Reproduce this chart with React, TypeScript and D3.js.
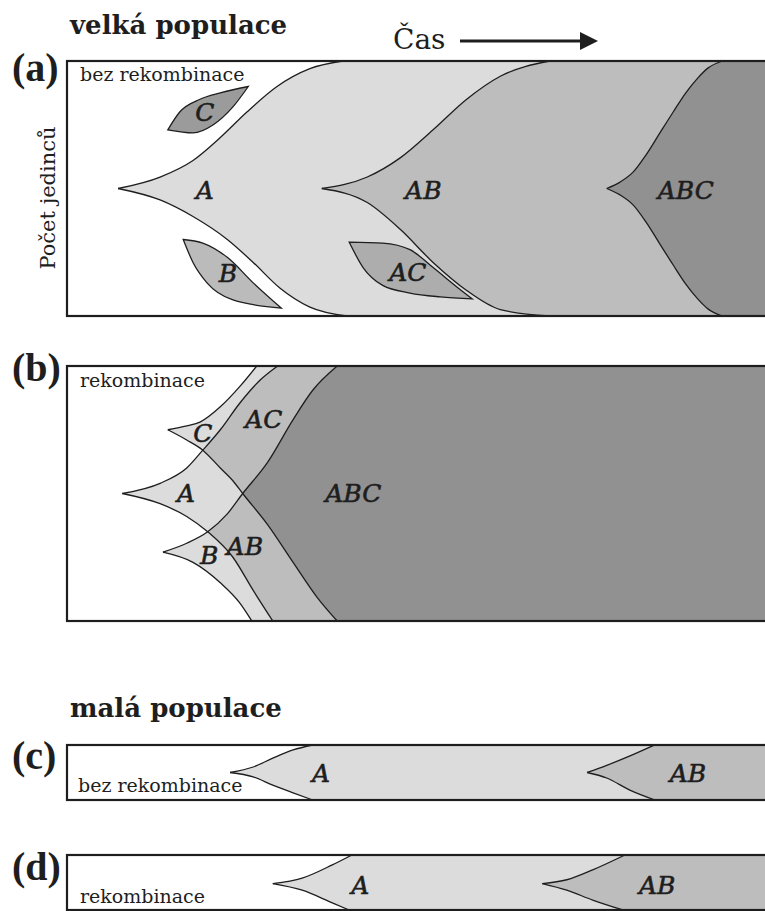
import React from 'react';
import * as d3 from 'd3';

type P = [number, number];

// ---- data: time (0-100) vs. relative population share (0-1) ----
// panel (a) – large population, no recombination
const aA_up: P[] = [[7.3,0.5],[13.3,0.545],[18,0.61],[21.9,0.70],[25.7,0.80],[30,0.90],[34.7,0.97],[39.4,1]];
const aA_lo: P[] = [[7.3,0.5],[13.3,0.455],[18,0.39],[22.9,0.30],[26.6,0.21],[30.4,0.11],[34.7,0.035],[40,0]];
const aAB_up: P[] = [[36.4,0.5],[42.9,0.545],[47.6,0.62],[52.3,0.73],[57.1,0.85],[61.9,0.94],[69,1]];
const aAB_lo: P[] = [[36.4,0.5],[42.9,0.445],[47.6,0.34],[52.3,0.21],[57.1,0.10],[61.9,0.025],[69,0]];
const aABC_up: P[] = [[77.1,0.5],[79,0.525],[80.9,0.565],[82.7,0.631],[84.7,0.718],[86.6,0.80],[88.4,0.875],[90.1,0.933],[91.6,0.973],[93.6,1]];
const aABC_lo: P[] = [[77.1,0.5],[79,0.475],[80.9,0.435],[82.7,0.369],[84.7,0.282],[86.6,0.20],[88.4,0.125],[90.1,0.067],[91.6,0.027],[93.6,0]];
const aC_top: P[] = [[14.4,0.73],[16.1,0.80],[19,0.85],[21.9,0.875],[25.9,0.90]];
const aC_bot: P[] = [[14.4,0.73],[18,0.718],[20.9,0.75],[23.7,0.82],[25.9,0.90]];
const aB_top: P[] = [[16.6,0.30],[19.4,0.286],[22.9,0.23],[26.6,0.13],[30.6,0.031]];
const aB_bot: P[] = [[16.6,0.30],[18,0.21],[20,0.13],[23.7,0.063],[30.6,0.031]];
const aAC_top: P[] = [[40.3,0.29],[45.1,0.286],[49,0.26],[52.3,0.19],[55.7,0.114],[57.9,0.067]];
const aAC_bot: P[] = [[40.3,0.29],[42.3,0.19],[45.1,0.12],[49,0.09],[53.3,0.075],[57.9,0.067]];

// panel (b) – large population, recombination
const bC_up: P[] = [[14.4,0.75],[17.1,0.765],[19,0.78],[21.9,0.84],[24.7,0.92],[27.1,1]];
const bC_lo: P[] = [[14.4,0.75],[17.1,0.71],[19.4,0.67],[21.9,0.60],[23.7,0.55],[25.1,0.50],[28.6,0.38],[32.3,0.23],[35.7,0.094],[38.6,0]];
const bA_up: P[] = [[7.9,0.5],[13.3,0.54],[17.1,0.60],[19.4,0.67],[21.9,0.75],[24.7,0.855],[27.6,0.945],[30.1,1]];
const bA_lo: P[] = [[7.9,0.5],[13.3,0.46],[17.1,0.41],[20.1,0.35],[23.7,0.25],[26.6,0.12],[29.4,0]];
const bB_up: P[] = [[13.7,0.27],[17.1,0.305],[20.1,0.35],[22.9,0.42],[25.1,0.50],[28.6,0.62],[32.3,0.79],[35.1,0.905],[38.6,1]];
const bB_lo: P[] = [[13.7,0.27],[18,0.23],[21.9,0.15],[24.7,0.07],[26.4,0]];

// panel (c) – small population, no recombination
const cA_up: P[] = [[23.3,0.5],[26.6,0.6],[29.4,0.76],[32.3,0.91],[35.1,1]];
const cA_lo: P[] = [[23.3,0.5],[26.6,0.42],[29.4,0.27],[32.3,0.13],[35.1,0]];
const cAB_up: P[] = [[74.3,0.5],[77.1,0.63],[80,0.78],[83.9,1]];
const cAB_lo: P[] = [[74.3,0.5],[77.1,0.40],[80.4,0.18],[84,0]];

// panel (d) – small population, recombination
const dA_up: P[] = [[29.4,0.48],[33.6,0.58],[37.9,0.82],[40.7,1]];
const dA_lo: P[] = [[29.4,0.48],[33.6,0.36],[37.9,0.13],[40.3,0]];
const dAB_up: P[] = [[67.9,0.48],[71.4,0.55],[75.1,0.73],[79.7,1]];
const dAB_lo: P[] = [[67.9,0.48],[71.4,0.36],[75.1,0.18],[79.4,0]];

// labels: [time, share, text]
const aLabels: [number, number, string][] = [[19.7,0.494,'A'],[50.9,0.494,'AB'],[88.4,0.494,'ABC'],[19.7,0.80,'C'],[23.0,0.169,'B'],[48.7,0.173,'AC']];
const bLabels: [number, number, string][] = [[19.4,0.737,'C'],[17.0,0.502,'A'],[20.3,0.259,'B'],[28.1,0.792,'AC'],[25.4,0.294,'AB'],[40.9,0.502,'ABC']];
const cLabels: [number, number, string][] = [[36.3,0.49,'A'],[88.7,0.49,'AB']];
const dLabels: [number, number, string][] = [[41.9,0.455,'A'],[84.3,0.455,'AB']];

const panelTop = [61, 366, 745, 855];
const panelBottom = [316, 621, 800, 910];
const LEFT = 67;
const RIGHT = 780;

const LIGHT = '#dcdcdc';
const MID = '#bdbdbd';
const DARK = '#919191';
const INK = '#1e1e1e';
const SERIF = '"DejaVu Serif", serif';

const x = d3.scaleLinear().domain([0, 100]).range([LEFT, 767]);

function yScale(i: number) {
  return d3.scaleLinear().domain([0, 1]).range([panelBottom[i], panelTop[i]]);
}

function gen(sy: d3.ScaleLinear<number, number>) {
  return d3.line<P>().x(d => x(d[0])).y(d => sy(d[1])).curve(d3.curveMonotoneX);
}

function cusp(up: P[], lo: P[], sy: d3.ScaleLinear<number, number>) {
  const g = gen(sy);
  const a = g([...up].reverse()) as string;
  const b = (g(lo) as string).replace(/^M/, 'L');
  return `${a}${b}L${RIGHT},${sy(0)}L${RIGHT},${sy(1)}Z`;
}

function leaf(top: P[], bot: P[], sy: d3.ScaleLinear<number, number>) {
  const g = gen(sy);
  const a = g(top) as string;
  const b = (g([...bot].reverse()) as string).replace(/^M/, 'L');
  return `${a}${b}Z`;
}

function Labels({ items, sy }: { items: [number, number, string][]; sy: d3.ScaleLinear<number, number> }) {
  return (
    <g fontFamily={SERIF} fontStyle="italic" fontSize={25} fill={INK} stroke={INK} strokeWidth={0.6} textAnchor="middle">
      {items.map((l, i) => (
        <text key={i} x={x(l[0])} y={sy(l[1])} dy="0.36em">{l[2]}</text>
      ))}
    </g>
  );
}

function Box({ i }: { i: number }) {
  return (
    <rect x={LEFT} y={panelTop[i]} width={RIGHT - LEFT + 20} height={panelBottom[i] - panelTop[i]}
      fill="none" stroke={INK} strokeWidth={2.2} />
  );
}

function Curves({ list, sy }: { list: P[][]; sy: d3.ScaleLinear<number, number> }) {
  const g = gen(sy);
  return (
    <g fill="none" stroke={INK} strokeWidth={1.3}>
      {list.map((c, k) => <path key={k} d={g(c) as string} />)}
    </g>
  );
}

function PanelA() {
  const sy = yScale(0);
  return (
    <g>
      <path d={cusp(aA_up, aA_lo, sy)} fill={LIGHT} />
      <path d={cusp(aAB_up, aAB_lo, sy)} fill={MID} />
      <path d={cusp(aABC_up, aABC_lo, sy)} fill={DARK} />
      <Curves list={[aA_up, aA_lo, aAB_up, aAB_lo, aABC_up, aABC_lo]} sy={sy} />
      <path d={leaf(aC_top, aC_bot, sy)} fill="#9b9b9b" stroke={INK} strokeWidth={1.3} />
      <path d={leaf(aB_top, aB_bot, sy)} fill="#bbbbbb" stroke={INK} strokeWidth={1.3} />
      <path d={leaf(aAC_top, aAC_bot, sy)} fill="#adadad" stroke={INK} strokeWidth={1.3} />
      <Labels items={aLabels} sy={sy} />
      <Box i={0} />
    </g>
  );
}

function PanelB() {
  const sy = yScale(1);
  const cReg = cusp(bC_up, bC_lo, sy);
  const aReg = cusp(bA_up, bA_lo, sy);
  const bReg = cusp(bB_up, bB_lo, sy);
  return (
    <g>
      <defs>
        <clipPath id="clipC"><path d={cReg} /></clipPath>
        <clipPath id="clipB"><path d={bReg} /></clipPath>
        <clipPath id="boxB"><rect x={LEFT} y={panelTop[1]} width={RIGHT - LEFT} height={panelBottom[1] - panelTop[1]} /></clipPath>
      </defs>
      <g clipPath="url(#boxB)">
        <path d={cReg} fill={LIGHT} />
        <path d={aReg} fill={LIGHT} />
        <path d={bReg} fill={LIGHT} />
        <path d={aReg} fill={MID} clipPath="url(#clipC)" />
        <path d={aReg} fill={MID} clipPath="url(#clipB)" />
        <path d={bReg} fill={DARK} clipPath="url(#clipC)" />
        <Curves list={[bC_up, bC_lo, bA_up, bA_lo, bB_up, bB_lo]} sy={sy} />
      </g>
      <Labels items={bLabels} sy={sy} />
      <Box i={1} />
    </g>
  );
}

function PanelSmall({ i, up1, lo1, up2, lo2, labels }: { i: number; up1: P[]; lo1: P[]; up2: P[]; lo2: P[]; labels: [number, number, string][] }) {
  const sy = yScale(i);
  return (
    <g>
      <path d={cusp(up1, lo1, sy)} fill={LIGHT} />
      <path d={cusp(up2, lo2, sy)} fill={MID} />
      <Curves list={[up1, lo1, up2, lo2]} sy={sy} />
      <Labels items={labels} sy={sy} />
      <Box i={i} />
    </g>
  );
}

export default function App() {
  return (
    <svg width={765} height={911} style={{ position: 'absolute', left: 0, top: 0, background: '#fff' }}>
      <rect x={0} y={0} width={765} height={911} fill="#fff" />
      <PanelA />
      <PanelB />
      <PanelSmall i={2} up1={cA_up} lo1={cA_lo} up2={cAB_up} lo2={cAB_lo} labels={cLabels} />
      <PanelSmall i={3} up1={dA_up} lo1={dA_lo} up2={dAB_up} lo2={dAB_lo} labels={dLabels} />

      {/* headings */}
      <g fontFamily={SERIF} fill={INK}>
        <text x={70} y={34} fontSize={26} fontWeight="bold">velká populace</text>
        <text x={70} y={717} fontSize={26} fontWeight="bold">malá populace</text>
        <text x={393} y={49} fontSize={28}>Čas</text>
        <text x={80} y={81} fontSize={19}>bez rekombinace</text>
        <text x={80} y={387} fontSize={19}>rekombinace</text>
        <text x={78} y={792} fontSize={19}>bez rekombinace</text>
        <text x={80} y={903} fontSize={19}>rekombinace</text>
        <text transform="translate(55,198) rotate(-90)" fontSize={21} textAnchor="middle">Počet jedinců</text>
      </g>
      <line x1={460} y1={41} x2={583} y2={41} stroke={INK} strokeWidth={3} />
      <path d="M580,32L598,41L580,50Z" fill={INK} />

      {/* panel letters */}
      <g fontFamily='"Liberation Serif", serif' fontWeight="bold" fontSize={40} fill={INK}>
        <text x={12} y={81}>(a)</text>
        <text x={12} y={381}>(b)</text>
        <text x={12} y={769}>(c)</text>
        <text x={12} y={880}>(d)</text>
      </g>
    </svg>
  );
}
